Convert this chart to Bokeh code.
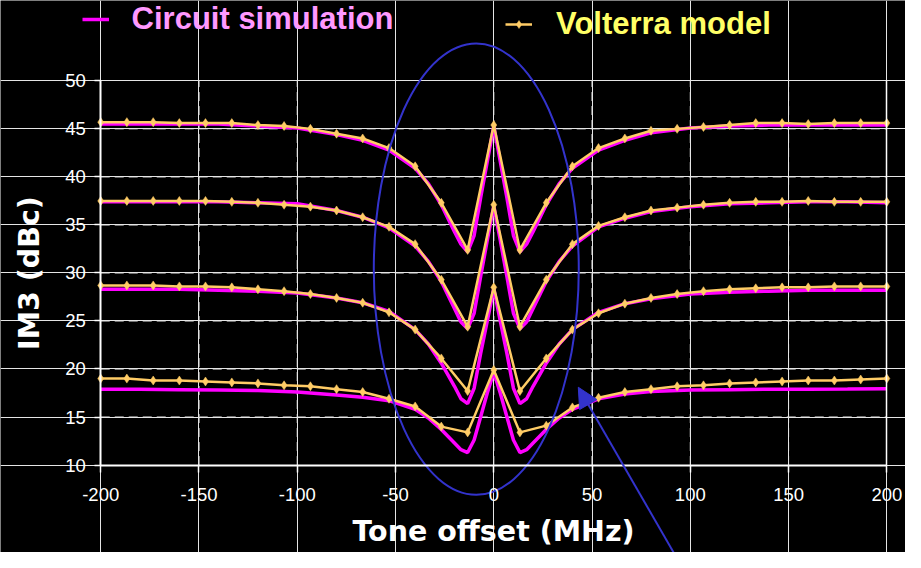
from bokeh.plotting import figure
from bokeh.models import (Range1d, LinearAxis, FixedTicker, Grid, Legend,
                          LegendItem, Arrow, NormalHead)
from bokeh.embed import file_html
from bokeh.resources import INLINE

# ---------------- data ----------------
x_ticks = [-200, -150, -100, -50, 0, 50, 100, 150, 200]
x_tick_labels = ["-200", "-150", "-100", "-50", "0", "50", "100", "150", "200"]
y_ticks = [10, 15, 20, 25, 30, 35, 40, 45, 50]

volterra_x = [-200, -186.7, -173.3, -160, -146.7, -133.3, -120, -106.7, -93.3,
              -80, -66.7, -53.3, -40, -26.7, -13.3, 0, 13.3, 26.7, 40, 53.3,
              66.7, 80, 93.3, 106.7, 120, 133.3, 146.7, 160, 173.3, 186.7, 200]
volterra_a = [45.7, 45.7, 45.7, 45.6, 45.6, 45.6, 45.4, 45.3, 45.0, 44.5, 44.0,
              43.0, 41.1, 37.3, 32.4, 45.4, 32.4, 37.3, 41.1, 43.0, 44.0, 44.8,
              45.0, 45.2, 45.4, 45.6, 45.6, 45.5, 45.6, 45.6, 45.6]
volterra_b = [37.5, 37.5, 37.5, 37.5, 37.5, 37.4, 37.3, 37.1, 36.9, 36.5, 35.8,
              34.8, 33.0, 29.3, 24.4, 37.1, 24.4, 29.3, 33.0, 34.9, 35.8, 36.5,
              36.8, 37.1, 37.3, 37.4, 37.4, 37.5, 37.4, 37.4, 37.4]
volterra_c = [28.7, 28.7, 28.7, 28.6, 28.6, 28.5, 28.3, 28.1, 27.8, 27.4, 26.9,
              25.9, 24.1, 21.1, 17.7, 28.5, 17.7, 21.1, 24.1, 25.8, 26.8, 27.4,
              27.8, 28.1, 28.3, 28.4, 28.5, 28.5, 28.6, 28.6, 28.6]
volterra_d = [19.0, 19.0, 18.8, 18.8, 18.7, 18.6, 18.5, 18.3, 18.2, 17.9, 17.6,
              16.9, 16.1, 14.0, 13.4, 19.9, 13.4, 14.1, 16.0, 17.0, 17.6, 17.9,
              18.2, 18.3, 18.5, 18.6, 18.7, 18.8, 18.8, 18.9, 19.0]

circuit_x = [-200, -180, -160, -140, -120, -100, -80, -66.7, -53.3, -40, -33.3,
             -26.7, -20, -16.7, -13.3, -10, -6.7, -3.3, 0, 3.3, 6.7, 10, 13.3,
             16.7, 20, 26.7, 33.3, 40, 53.3, 66.7, 80, 100, 120, 140, 160, 180, 200]
circuit_a = [45.5, 45.5, 45.5, 45.5, 45.3, 45.1, 44.4, 43.8, 42.8, 40.9, 39.3,
             37.1, 34.3, 33.0, 32.2, 33.9, 37.8, 41.6, 45.3, 41.6, 37.8, 33.9,
             32.2, 33.0, 34.3, 37.1, 39.3, 40.9, 42.8, 43.8, 44.6, 45.1, 45.3,
             45.4, 45.4, 45.4, 45.4]
circuit_b = [37.4, 37.4, 37.4, 37.4, 37.3, 37.2, 36.5, 35.8, 34.7, 32.8, 31.2,
             29.1, 26.3, 24.9, 24.2, 25.8, 29.6, 33.4, 37.0, 33.4, 29.6, 25.8,
             24.2, 24.9, 26.3, 29.1, 31.2, 32.8, 34.8, 35.7, 36.4, 36.9, 37.2,
             37.3, 37.4, 37.4, 37.3]
circuit_c = [28.3, 28.3, 28.3, 28.2, 28.1, 27.9, 27.4, 26.9, 26.0, 24.1, 22.6,
             20.6, 18.2, 16.9, 16.4, 18.0, 21.6, 25.0, 28.4, 25.0, 21.6, 18.0,
             16.4, 16.9, 18.2, 20.6, 22.6, 24.1, 25.9, 26.8, 27.3, 27.8, 28.0,
             28.1, 28.2, 28.2, 28.2]
circuit_d = [17.9, 17.9, 17.85, 17.8, 17.75, 17.6, 17.3, 17.05, 16.7, 15.8, 14.9,
             13.7, 12.3, 11.6, 11.3, 12.6, 15.0, 17.5, 19.7, 17.5, 15.0, 12.6,
             11.3, 11.6, 12.3, 13.7, 14.9, 15.8, 16.9, 17.4, 17.65, 17.8, 17.85,
             17.9, 17.9, 17.92, 17.95]

series_names = ["Circuit simulation", "Volterra model"]

# annotation geometry (data units)
ellipse_center = (-8.9, 30.4)
ellipse_size = (104.3, 47.0)
arrow_tail = (91.5, 0.9)
arrow_tip = (43.0, 18.1)

# ---------------- style ----------------
BG = "black"
MAGENTA = "#FF00FF"
ORANGE = "#FFCC66"
PINK_TEXT = "#FF99FF"
YELLOW_TEXT = "#FFFF66"
BLUE = "#3333CC"
GRID_WHITE = "#FFFFFF"
GRID_GREY = "#9A9A9A"
GRID_DASH = "9 5"

p = figure(width=905, height=552, x_range=Range1d(-251, 209.5),
           y_range=Range1d(0.893, 58.366), x_axis_location=None,
           y_axis_location=None, toolbar_location=None, output_backend="svg",
           min_border=0, title=None, background_fill_color=BG,
           border_fill_color=BG, outline_line_color=None)

# grid lines, bounded to the axis extents
xb = (x_ticks[0], x_ticks[-1])
yb = (y_ticks[0], y_ticks[-1])
vgrid = [t for t in x_ticks if xb[0] < t < xb[1]]
hgrid_white = [t for t in y_ticks if t % 10 == 0 and yb[0] < t < yb[1]]
hgrid_grey = [t for t in y_ticks if t % 10 == 5]

p.segment(x0=vgrid, y0=[yb[0]] * len(vgrid), x1=vgrid, y1=[yb[1]] * len(vgrid),
          line_color=GRID_WHITE, line_dash=GRID_DASH, line_width=1, level="underlay")
p.segment(x0=[xb[0]] * len(hgrid_white), y0=hgrid_white,
          x1=[xb[1]] * len(hgrid_white), y1=hgrid_white,
          line_color=GRID_WHITE, line_dash=GRID_DASH, line_width=1, level="underlay")
p.segment(x0=[xb[0]] * len(hgrid_grey), y0=hgrid_grey,
          x1=[xb[1]] * len(hgrid_grey), y1=hgrid_grey,
          line_color=GRID_GREY, line_dash=GRID_DASH, line_width=1.5, level="underlay")

# axes
xaxis = LinearAxis(fixed_location=10, bounds=xb,
                   ticker=FixedTicker(ticks=x_ticks),
                   major_label_overrides=dict(zip(x_ticks, x_tick_labels)),
                   axis_line_color="white", axis_line_width=2,
                   major_tick_line_color="white", major_tick_line_width=1.5,
                   major_tick_in=0, major_tick_out=7, minor_tick_line_color=None,
                   major_label_text_color="white",
                   major_label_text_font="Liberation Sans",
                   major_label_text_font_size="18.5px", major_label_standoff=16,
                   axis_label="Tone offset (MHz)", axis_label_text_color="white",
                   axis_label_text_font="DejaVu Sans",
                   axis_label_text_font_style="bold",
                   axis_label_text_font_size="28.5px", axis_label_standoff=10)
p.add_layout(xaxis, "below")

yaxis = LinearAxis(fixed_location=-200, bounds=yb,
                   ticker=FixedTicker(ticks=y_ticks),
                   axis_line_color="white", axis_line_width=2,
                   major_tick_line_color="white", major_tick_line_width=1.5,
                   major_tick_in=0, major_tick_out=6, minor_tick_line_color=None,
                   major_label_text_color="white",
                   major_label_text_font="Liberation Sans",
                   major_label_text_font_size="18.5px", major_label_standoff=9,
                   axis_label="IM3 (dBc)", axis_label_text_color="white",
                   axis_label_text_font="DejaVu Sans",
                   axis_label_text_font_style="bold",
                   axis_label_text_font_size="28.5px", axis_label_standoff=16)
p.add_layout(yaxis, "left")

right_border = LinearAxis(fixed_location=200, bounds=yb,
                          ticker=FixedTicker(ticks=[]), axis_line_color="white",
                          axis_line_width=1.5, major_tick_line_color=None,
                          minor_tick_line_color=None,
                          major_label_text_font_size="0px")
p.add_layout(right_border, "right")

# curves
circuit_renderers = []
for ys in (circuit_a, circuit_b, circuit_c, circuit_d):
    circuit_renderers.append(p.line(circuit_x, ys, line_color=MAGENTA, line_width=3.5))

volterra_lines = []
volterra_marks = []
for ys in (volterra_a, volterra_b, volterra_c, volterra_d):
    volterra_lines.append(p.line(volterra_x, ys, line_color=ORANGE, line_width=2.5))
    volterra_marks.append(p.scatter(volterra_x, ys, marker="diamond", size=9,
                                    fill_color=ORANGE, line_color=ORANGE, line_width=0.5))

# annotation ellipse and arrow
p.ellipse(x=[ellipse_center[0]], y=[ellipse_center[1]], width=ellipse_size[0],
          height=ellipse_size[1], fill_color=None, line_color=BLUE, line_width=2)
p.add_layout(Arrow(end=NormalHead(size=20, fill_color=BLUE, line_color=BLUE),
                   x_start=arrow_tail[0], y_start=arrow_tail[1],
                   x_end=arrow_tip[0], y_end=arrow_tip[1],
                   line_color=BLUE, line_width=2))

# legends
def make_legend(label, renderers, loc, standoff, color):
    return Legend(items=[LegendItem(label=label, renderers=renderers)],
                  location=loc, orientation="horizontal", padding=0, margin=0,
                  spacing=0, border_line_color=None, background_fill_alpha=0,
                  glyph_width=27, glyph_height=20, label_height=40,
                  label_standoff=standoff, label_text_color=color,
                  label_text_font="Liberation Sans", label_text_font_style="bold",
                  label_text_font_size="31px")

p.add_layout(make_legend(series_names[0], [circuit_renderers[0]], (81.6, 513.5), 23, PINK_TEXT))
p.add_layout(make_legend(series_names[1], [volterra_lines[0], volterra_marks[0]], (505, 507.7), 24, YELLOW_TEXT))

open("out.html", "w").write(file_html(p, INLINE))
